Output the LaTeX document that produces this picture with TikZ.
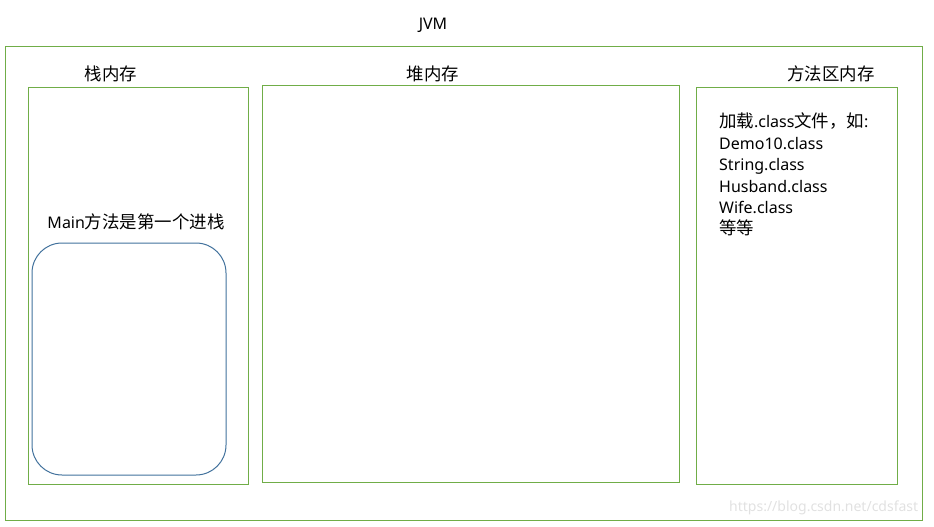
\documentclass[tikz,border=0pt]{standalone}
\usepackage{fontspec}
\setmainfont{Noto Sans}
\newfontfamily\cjk{Noto Sans CJK SC}[Scale=1.09]
\definecolor{boxgreen}{RGB}{112,173,71}
\definecolor{boxblue}{RGB}{65,113,156}
\definecolor{wmgray}{RGB}{225,225,225}
\begin{document}
\begin{tikzpicture}[x=1pt,y=-1pt,
  region/.style={draw=boxgreen,line width=1pt},
  lbl/.style={font=\fontsize{16}{21.4}\selectfont,inner sep=0pt}]
\useasboundingbox (0,0) rectangle (934,527);
\draw[region] (5,47) rectangle (922,520);
\draw[region] (28,87) rectangle (248,484);
\draw[region] (262,85) rectangle (679,482);
\draw[region] (696,87) rectangle (897,484);
\draw[draw=boxblue,line width=1pt,rounded corners=30pt] (32,243) rectangle (226,475);
\node[lbl] (jvm) at (433,25) {JVM};
\node[lbl] (stack) at (111,74) {\cjk 栈内存};
\node[lbl] (heap) at (433,74) {\cjk 堆内存};
\node[lbl] (method) at (831,74) {\cjk 方法区内存};
\node[lbl] (main) at (136,222) {Main{\cjk 方法是第一个进栈}};
\node[lbl,anchor=north west,align=left] (classes) at (719,113) {{\cjk 加载}.class{\cjk 文件，如}:\\Demo10.class\\String.class\\Husband.class\\Wife.class\\{\cjk 等等}};
\node[font=\fontsize{14}{16}\selectfont,inner sep=0pt,text=wmgray,anchor=west] (wm) at (729,508) {https://blog.csdn.net/cdsfast};
\end{tikzpicture}
\end{document}
